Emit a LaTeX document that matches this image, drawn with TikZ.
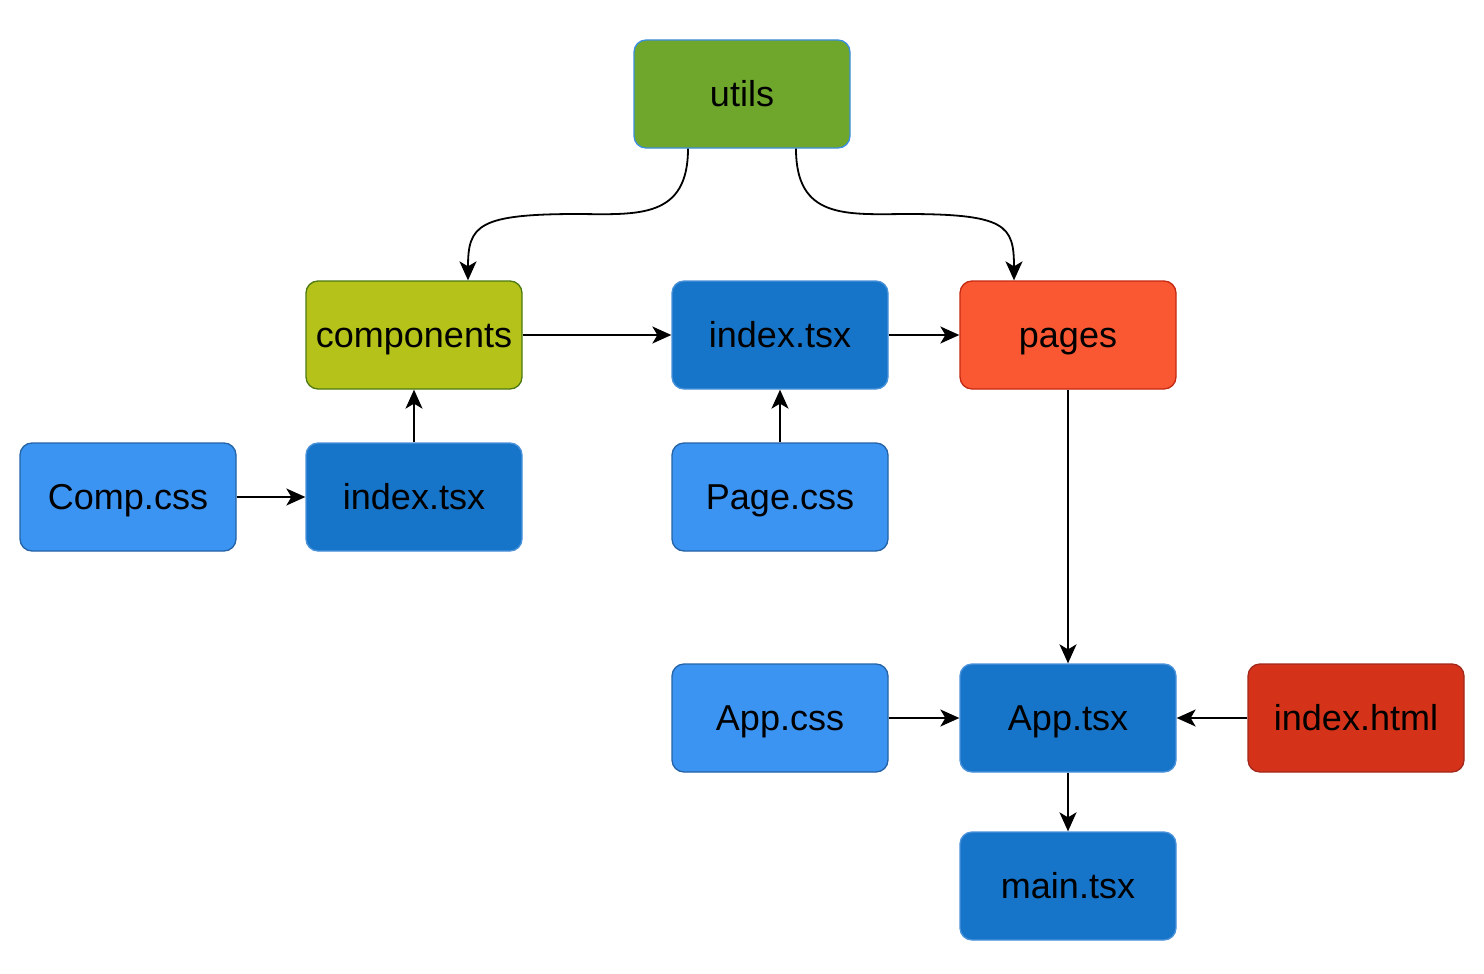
\documentclass[tikz,border=0pt]{standalone}
\usepackage{fontspec}
\setmainfont{Liberation Sans}
\usetikzlibrary{arrows.meta,calc}
\definecolor{utilsfill}{HTML}{6FA72D}
\definecolor{utilsline}{HTML}{3C8FE0}
\definecolor{compfill}{HTML}{B5C21A}
\definecolor{compline}{HTML}{4E7A12}
\definecolor{darkfill}{HTML}{1775C9}
\definecolor{darkline}{HTML}{4A92DA}
\definecolor{lightfill}{HTML}{3C94F2}
\definecolor{lightline}{HTML}{2463A6}
\definecolor{pagesfill}{HTML}{FA5733}
\definecolor{pagesline}{HTML}{C42A12}
\definecolor{htmlfill}{HTML}{D4331A}
\definecolor{htmlline}{HTML}{A3271A}
\tikzset{
  box/.style={rectangle, rounded corners=12pt, minimum width=216pt, minimum height=108pt,
    inner sep=0pt, line width=1.3pt, text=black, text height=25pt, text depth=0pt,
    font=\fontsize{36}{43}\selectfont},
  utilsbox/.style={box, fill=utilsfill, draw=utilsline},
  compbox/.style={box, fill=compfill, draw=compline},
  darkbox/.style={box, fill=darkfill, draw=darkline},
  lightbox/.style={box, fill=lightfill, draw=lightline},
  pagesbox/.style={box, fill=pagesfill, draw=pagesline},
  htmlbox/.style={box, fill=htmlfill, draw=htmlline},
  conn/.style={line width=1.8pt, draw=black, -{Stealth[length=19pt,width=17pt,inset=5pt]}},
}
\begin{document}
\begin{tikzpicture}[x=1pt,y=-1pt]
\fill[white] (0,0) rectangle (1484,974);
\node[utilsbox] (utils) at (742,94) {utils};
\node[compbox] (components) at (414,335) {components};
\node[darkbox] (idxmid) at (780,335) {index.tsx};
\node[pagesbox] (pages) at (1068,335) {pages};
\node[lightbox] (compcss) at (128,497) {Comp.css};
\node[darkbox] (idxleft) at (414,497) {index.tsx};
\node[lightbox] (pagecss) at (780,497) {Page.css};
\node[lightbox] (appcss) at (780,718) {App.css};
\node[darkbox] (apptsx) at (1068,718) {App.tsx};
\node[htmlbox] (indexhtml) at (1356,718) {index.html};
\node[darkbox] (maintsx) at (1068,886) {main.tsx};

\coordinate (u1) at ($(utils.south)+(-54,0)$);
\coordinate (u2) at ($(utils.south)+(54,0)$);
\coordinate (c1) at ($(components.north)+(54,0)$);
\coordinate (p1) at ($(pages.north)+(-54,0)$);
\coordinate (m1) at ($(u1)!0.5!(c1)+(0,0)$);
\coordinate (m2) at ($(u2)!0.5!(p1)+(0,0)$);

\draw[conn] (u1) .. controls ($(u1)+(0,70)$) and ($(m1)+(60,0)$) .. (578,214)
   .. controls ($(578,214)+(-100,0)$) and ($(c1)+(0,-55)$) .. (c1);
\draw[conn] (u2) .. controls ($(u2)+(0,70)$) and ($(m2)+(-60,0)$) .. (906,214)
   .. controls ($(906,214)+(100,0)$) and ($(p1)+(0,-55)$) .. (p1);

\draw[conn] (components.east) -- (idxmid.west);
\draw[conn] (idxmid.east) -- (pages.west);
\draw[conn] (idxleft.north) -- (components.south);
\draw[conn] (compcss.east) -- (idxleft.west);
\draw[conn] (pagecss.north) -- (idxmid.south);
\draw[conn] (pages.south) -- (apptsx.north);
\draw[conn] (appcss.east) -- (apptsx.west);
\draw[conn] (indexhtml.west) -- (apptsx.east);
\draw[conn] (apptsx.south) -- (maintsx.north);
\end{tikzpicture}
\end{document}
